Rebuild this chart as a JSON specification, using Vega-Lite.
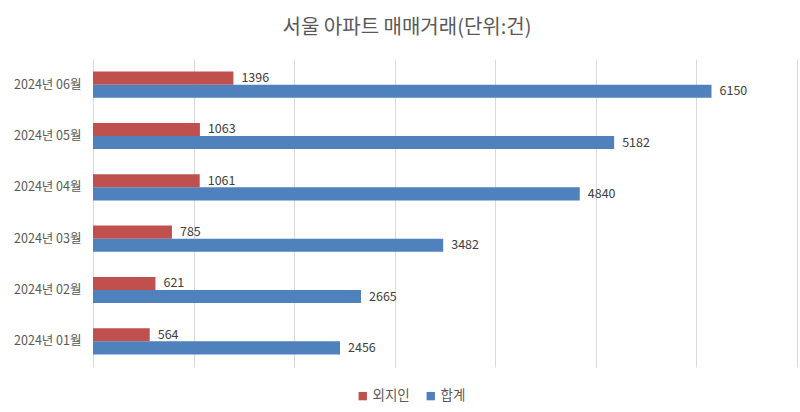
{
  "$schema": "https://vega.github.io/schema/vega-lite/v6.json",
  "width": 704,
  "height": 308,
  "autosize": {"type": "none"},
  "padding": {"left": 93, "top": 59, "right": 3, "bottom": 45},
  "background": "white",
  "config": {
    "font": "Noto Sans CJK KR",
    "view": {"stroke": null}
  },
  "title": {
    "text": "서울 아파트 매매거래(단위:건)",
    "fontSize": 20,
    "font": "Noto Sans CJK KR",
    "fontWeight": "normal",
    "color": "#595959",
    "dx": -38,
    "offset": 21
  },
  "data": {
    "values": [
      {"month": "2024년 01월", "series": "외지인", "ord": 1, "value": 564},
      {"month": "2024년 01월", "series": "합계", "ord": 2, "value": 2456},
      {"month": "2024년 02월", "series": "외지인", "ord": 1, "value": 621},
      {"month": "2024년 02월", "series": "합계", "ord": 2, "value": 2665},
      {"month": "2024년 03월", "series": "외지인", "ord": 1, "value": 785},
      {"month": "2024년 03월", "series": "합계", "ord": 2, "value": 3482},
      {"month": "2024년 04월", "series": "외지인", "ord": 1, "value": 1061},
      {"month": "2024년 04월", "series": "합계", "ord": 2, "value": 4840},
      {"month": "2024년 05월", "series": "외지인", "ord": 1, "value": 1063},
      {"month": "2024년 05월", "series": "합계", "ord": 2, "value": 5182},
      {"month": "2024년 06월", "series": "외지인", "ord": 1, "value": 1396},
      {"month": "2024년 06월", "series": "합계", "ord": 2, "value": 6150}
    ]
  },
  "encoding": {
    "y": {
      "field": "month",
      "type": "nominal",
      "sort": "descending",
      "scale": {"paddingInner": 0.49, "paddingOuter": 0.245},
      "axis": {
        "title": null,
        "ticks": false,
        "domain": false,
        "labelFontSize": 12.5,
        "labelColor": "#595959",
        "labelPadding": 12
      }
    },
    "yOffset": {
      "field": "series",
      "type": "nominal",
      "sort": {"field": "ord"}
    },
    "x": {
      "field": "value",
      "type": "quantitative",
      "scale": {"domain": [0, 7000], "nice": false},
      "axis": {
        "title": null,
        "labels": false,
        "ticks": false,
        "domain": false,
        "grid": true,
        "gridColor": "#d9d9d9",
        "values": [0, 1000, 2000, 3000, 4000, 5000, 6000, 7000]
      }
    }
  },
  "layer": [
    {
      "mark": {"type": "bar"},
      "encoding": {
        "color": {
          "field": "series",
          "type": "nominal",
          "sort": ["외지인", "합계"],
          "scale": {"domain": ["외지인", "합계"], "range": ["#C0504D", "#4F81BD"]},
          "legend": {
            "title": null,
            "orient": "none",
            "direction": "horizontal",
            "legendX": 263,
            "legendY": 330,
            "symbolType": "square",
            "symbolSize": 70,
            "labelFontSize": 13.5,
            "labelColor": "#595959",
            "columnPadding": 14,
            "labelOffset": 3
          }
        }
      }
    },
    {
      "mark": {"type": "text", "align": "left", "dx": 8, "fontSize": 12.5, "color": "#404040", "baseline": "middle"},
      "encoding": {
        "text": {"field": "value", "type": "quantitative"}
      }
    }
  ]
}
